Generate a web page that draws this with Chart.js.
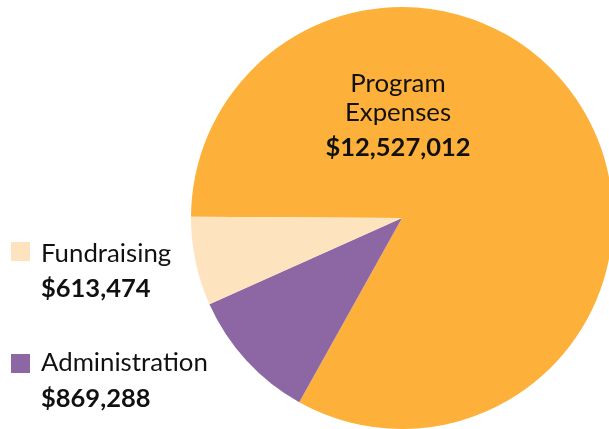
<!DOCTYPE html>
<html>
<head>
<meta charset="utf-8">
<script src="https://cdn.jsdelivr.net/npm/chart.js@4.4.0/dist/chart.umd.min.js"></script>
<style>
  html, body { margin: 0; padding: 0; background: #fff; }
  body { width: 609px; height: 429px; overflow: hidden; position: relative; font-family: Lato, "Noto Sans", sans-serif; color: #111; }
  #wrap { position: absolute; left: 0; top: 0; width: 624px; height: 429px; }
  .t { position: absolute; white-space: nowrap; line-height: 1; }
  .reg { font-size: 25.8px; font-weight: 400; }
  .bold { font-size: 25.5px; font-weight: 700; }
  .center { transform: translateX(-50%); text-align: center; }
  .box { position: absolute; width: 19px; height: 19px; }
</style>
</head>
<body>
<div id="wrap"><canvas id="pie" width="624" height="429"></canvas></div>
<div id="labels"></div>
<script>
// slices in clockwise drawing order
const categories = ['Program Expenses', 'Administration', 'Fundraising'];
const amountLabels = ['$12,527,012', '$869,288', '$613,474'];
// share of the circle each slice takes in the picture (percent)
const sliceShares = [83.0, 10.2, 6.8];
const sliceColors = ['#fdb13a', '#8d67a3', '#fee3bf'];

const ctx = document.getElementById('pie').getContext('2d');
new Chart(ctx, {
  type: 'pie',
  data: {
    labels: categories,
    datasets: [{
      data: sliceShares,
      backgroundColor: sliceColors,
      borderWidth: 0,
      hoverOffset: 0
    }]
  },
  options: {
    responsive: false,
    animation: false,
    rotation: 270.35,
    layout: { padding: { left: 191, top: 7, right: 11, bottom: 0 } },
    plugins: {
      legend: { display: false },
      tooltip: { enabled: false }
    }
  }
});

// text labels
const labels = document.getElementById('labels');
function addText(txt, cls, left, top) {
  const d = document.createElement('div');
  d.className = 't ' + cls;
  d.textContent = txt;
  d.style.left = left + 'px';
  d.style.top = top + 'px';
  labels.appendChild(d);
}
function addBox(color, left, top) {
  const d = document.createElement('div');
  d.className = 'box';
  d.style.background = color;
  d.style.left = left + 'px';
  d.style.top = top + 'px';
  labels.appendChild(d);
}

// program label inside the big slice
addText('Program', 'reg center', 398, 70);
addText('Expenses', 'reg center', 398, 99);
addText(amountLabels[0], 'bold center', 398, 134);

// side legend: fundraising, then administration
addBox(sliceColors[2], 11, 242);
addText(categories[2], 'reg', 41, 240);
addText(amountLabels[2], 'bold', 41, 275);
addBox(sliceColors[1], 11, 354);
addText(categories[1], 'reg', 41, 349);
addText(amountLabels[1], 'bold', 41, 385);
</script>
</body>
</html>
